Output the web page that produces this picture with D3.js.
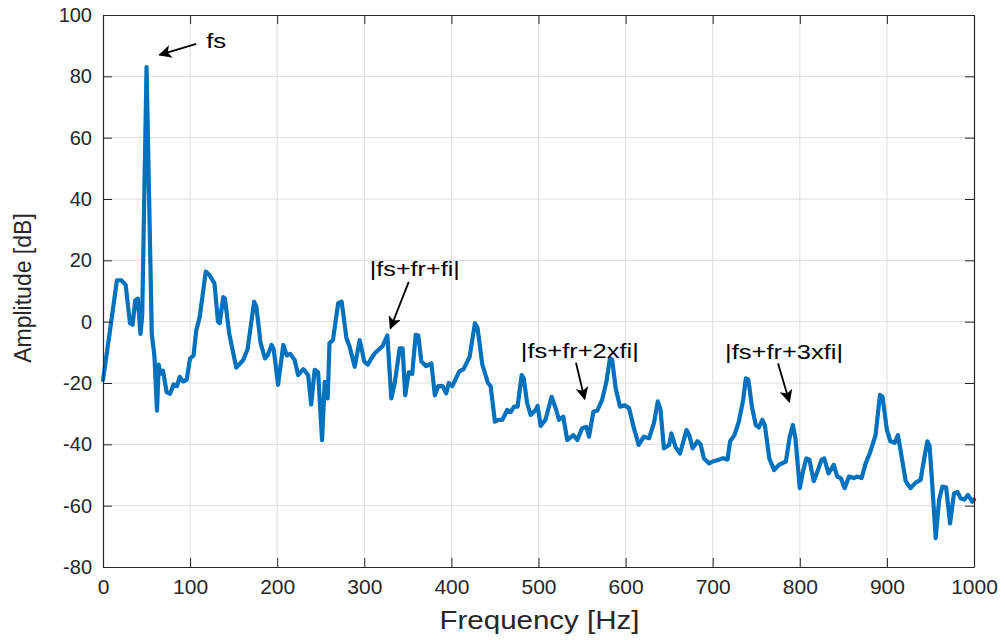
<!DOCTYPE html>
<html>
<head>
<meta charset="utf-8">
<script src="https://cdn.jsdelivr.net/npm/d3@7"></script>
<style>
  html, body { margin: 0; padding: 0; background: #fff; }
  svg { display: block; }
  text { font-family: "Liberation Sans", Arial, Helvetica, sans-serif; }
</style>
</head>
<body>
<svg id="chart" width="1005" height="640"></svg>
<script>
// Spectrum: frequency in Hz
const freq = [
  0, 7, 16, 21, 26, 31, 34, 37, 40, 43, 45, 50, 56, 59, 62, 64, 66, 69, 73, 77,
  81, 85, 88, 92, 96, 100, 104, 107, 111, 118, 122, 128, 132, 134, 138, 140, 145, 153, 161, 166,
  169, 173.5, 176, 181, 186, 189, 193.5, 196, 201, 204, 207, 211, 215, 220, 224, 230, 235.5, 239, 243, 247,
  251.5, 254.6, 258, 260, 264, 270, 274, 279.5, 283, 289, 294.7, 300, 304, 308, 312, 317.6, 321, 326.5, 331, 335,
  340.6, 344, 347, 351, 355, 359, 362, 365.5, 371, 377, 381, 385, 390, 394, 397, 401, 409, 414, 421, 427,
  430, 435.5, 442, 445, 450, 454, 458.5, 464, 468, 472, 476, 480.7, 483, 487, 491, 496.7, 499, 502.5, 508, 515,
  520, 523.5, 528.5, 533, 540, 544.6, 550, 555, 558, 563, 567.5, 573, 578, 582, 584.5, 588.6, 593.6, 599, 604, 609.6,
  615, 621, 627, 632.6, 637, 640, 644, 650, 652.5, 657.5, 662.5, 670, 673, 677, 682.6, 686, 690, 696, 701, 707,
  712, 717, 720, 725, 730, 735, 738, 741, 745, 749.5, 753, 757, 760, 765, 770.5, 776, 784, 788.5, 792, 795,
  800, 803.5, 807.5, 811, 816, 820, 825, 828, 833, 839, 843, 847, 851.5, 856.5, 862, 866, 871, 875.6, 881, 887,
  892, 895, 900, 904, 909, 912.7, 916.6, 921.6, 927, 933, 938.7, 942.6, 946.4, 949, 952, 956, 960, 963.7, 968, 972.5,
  977, 981, 984.7, 989, 993, 998, 1000
];
// Spectrum: amplitude in dB
const amplitude = [
  -19, -5, 13.5, 13.5, 12, -0.5, -1, 7, 7.5, -4, 2, 83, -4, -11, -29, -14, -17, -16, -23, -23.5,
  -20.5, -21, -18, -19.5, -19, -12, -11, -3, 1.5, 16.3, 15.3, 12.5, 0, -0.5, 8, 7.5, -4, -15, -12.5, -9,
  -2.7, 6.5, 5, -7, -12, -11, -7.6, -9, -20.6, -14, -7.6, -11, -10.5, -12.5, -17.4, -15.5, -17.4, -27, -15.7, -16.5,
  -38.6, -19.6, -25, -7, -6, 6, 6.5, -5.4, -8, -14.7, -6, -13, -14, -12, -10.3, -8.8, -8, -4.5, -25, -20,
  -8.7, -8.7, -24, -16.5, -17, -4.3, -4.5, -13, -14.5, -13.6, -24, -21, -21, -23.4, -20, -21, -16.3, -15.5, -11.4, -0.5,
  -2, -14, -20, -21, -32.6, -32, -32, -28.8, -29.5, -27.7, -27.7, -17.4, -18.5, -26.6, -30.4, -28.8, -27.5, -34, -32, -24.5,
  -28.5, -32, -31, -38.6, -37, -38.6, -34.8, -34.3, -37.5, -29.4, -29, -25.5, -19.6, -12, -12.3, -21.7, -27.7, -27.3, -28.2, -34.8,
  -40.2, -37.5, -38, -33, -26, -28.6, -41.3, -40.2, -36.4, -41, -43, -35.3, -37, -41.3, -39, -40, -44.6, -46.2, -45.5, -45,
  -44.5, -45, -39, -37, -32.6, -25.5, -18.5, -19, -27.7, -33.7, -34.5, -32, -34, -44.6, -48.4, -46.7, -45.6, -37.5, -33.7, -38,
  -54.3, -49, -44.6, -45, -52, -49, -45, -44.6, -49.5, -46.7, -50.5, -51, -54.3, -50.5, -51, -50.5, -51, -46.2, -42.4, -37,
  -23.9, -24.5, -35.3, -39, -39.5, -37, -43.5, -52, -54.3, -52.5, -51.6, -45, -39, -40.5, -52.7, -70.6, -58, -53.8, -54, -65.8,
  -56, -55.5, -57.6, -58, -56.5, -58.7, -58
];
const xTicks = [0, 100, 200, 300, 400, 500, 600, 700, 800, 900, 1000];
const yTicks = [-80, -60, -40, -20, 0, 20, 40, 60, 80, 100];

// Annotations: label, label centre (Hz, dB baseline), arrow tail and head (Hz, dB)
const noteLabels = ["fs", "|fs+fr+fi|", "|fs+fr+2xfi|", "|fs+fr+3xfi|"];
const noteWidths = [20, 90, 118, 118];
const noteAt = [[130, 89.2], [358, 14.8], [547.5, -11.8], [782, -12.3]];
const arrowFrom = [[107, 90.6], [351, 13.0], [543, -13.4], [775, -13.6]];
const arrowTo = [[65, 87], [330, -2.2], [553, -25.2], [788, -26.1]];

const svg = d3.select("#chart");
const W = 1005, H = 640;
const m = { left: 103, right: W - 974, top: 15, bottom: H - 567 };

const x = d3.scaleLinear().domain([0, 1000]).range([m.left, W - m.right]);
const y = d3.scaleLinear().domain([-80, 100]).range([H - m.bottom, m.top]);

const axisColor = "#262626";
const gridColor = "#dcdcdc";
const plain = d => String(d);

// grid
const grid = svg.append("g");
grid.selectAll("line.gx").data(xTicks.slice(1, -1)).join("line")
  .attr("x1", d => x(d)).attr("x2", d => x(d))
  .attr("y1", y(-80)).attr("y2", y(100))
  .attr("stroke", gridColor).attr("stroke-width", 1);
grid.selectAll("line.gy").data(yTicks.slice(1, -1)).join("line")
  .attr("y1", d => y(d)).attr("y2", d => y(d))
  .attr("x1", x(0)).attr("x2", x(1000))
  .attr("stroke", gridColor).attr("stroke-width", 1);

// spectrum line
const pts = freq.map((f, i) => [f, amplitude[i]]);
const line = d3.line().x(d => x(d[0])).y(d => y(d[1]));
svg.append("path")
  .datum(pts)
  .attr("d", line)
  .attr("fill", "none")
  .attr("stroke", "#0072BD")
  .attr("stroke-width", 4.2)
  .attr("stroke-linejoin", "round")
  .attr("stroke-linecap", "round");

// axes with inward ticks
function styleAxis(g, fontSize) {
  g.select(".domain").attr("stroke", axisColor).attr("stroke-width", 1.2);
  g.selectAll(".tick line").attr("stroke", axisColor).attr("stroke-width", 1);
  g.selectAll(".tick text").attr("fill", axisColor)
    .style("font-size", fontSize + "px")
    .style("font-family", '"Liberation Sans", Arial, sans-serif');
}

const gx = svg.append("g").attr("transform", `translate(0,${y(-80)})`)
  .call(d3.axisBottom(x).tickValues(xTicks).tickFormat(plain)
    .tickSizeInner(-9).tickSizeOuter(0).tickPadding(12));
styleAxis(gx, 21);

const gy = svg.append("g").attr("transform", `translate(${x(0)},0)`)
  .call(d3.axisLeft(y).tickValues(yTicks).tickFormat(plain)
    .tickSizeInner(-9).tickSizeOuter(0).tickPadding(11));
styleAxis(gy, 20);

const gt = svg.append("g").attr("transform", `translate(0,${y(100)})`)
  .call(d3.axisTop(x).tickValues(xTicks).tickSizeInner(-9).tickSizeOuter(0).tickFormat(""));
styleAxis(gt, 20);

const gr = svg.append("g").attr("transform", `translate(${x(1000)},0)`)
  .call(d3.axisRight(y).tickValues(yTicks).tickSizeInner(-9).tickSizeOuter(0).tickFormat(""));
styleAxis(gr, 20);

// axis titles
svg.append("text")
  .attr("x", (x(0) + x(1000)) / 2 + 1).attr("y", 629)
  .attr("text-anchor", "middle")
  .attr("fill", axisColor)
  .style("font-size", "25px")
  .attr("textLength", 200).attr("lengthAdjust", "spacingAndGlyphs")
  .text("Frequency [Hz]");

svg.append("text")
  .attr("transform", `translate(31,${(y(-80) + y(100)) / 2 - 3}) rotate(-90)`)
  .attr("text-anchor", "middle")
  .attr("fill", axisColor)
  .style("font-size", "23px")
  .text("Amplitude [dB]");

// annotation arrows
const defs = svg.append("defs");
defs.append("marker")
  .attr("id", "head")
  .attr("viewBox", "0 0 10 10")
  .attr("refX", 9).attr("refY", 5)
  .attr("markerWidth", 14).attr("markerHeight", 13)
  .attr("markerUnits", "userSpaceOnUse")
  .attr("orient", "auto")
  .append("path").attr("d", "M0,0 L10,5 L0,10 L2.5,5 Z").attr("fill", "#000");

const notes = svg.append("g");
noteLabels.forEach((lab, i) => {
  const a = arrowFrom[i], b = arrowTo[i];
  notes.append("line")
    .attr("x1", x(a[0])).attr("y1", y(a[1]))
    .attr("x2", x(b[0])).attr("y2", y(b[1]))
    .attr("stroke", "#000").attr("stroke-width", 1.8)
    .attr("marker-end", "url(#head)");
  notes.append("text")
    .attr("x", x(noteAt[i][0])).attr("y", y(noteAt[i][1]))
    .attr("text-anchor", "middle")
    .attr("fill", "#000")
    .style("font-size", "20px")
    .attr("textLength", noteWidths[i]).attr("lengthAdjust", "spacingAndGlyphs")
    .text(lab);
});
</script>
</body>
</html>
